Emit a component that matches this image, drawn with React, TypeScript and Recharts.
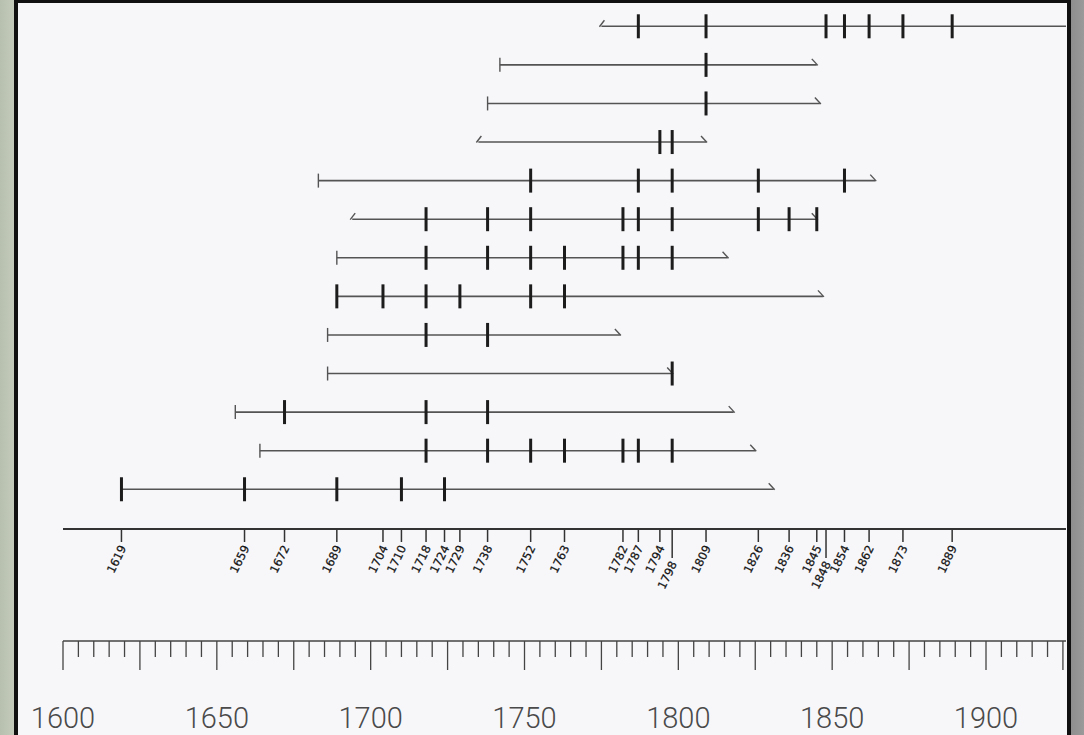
import React from 'react';
import { ComposedChart, XAxis, YAxis, ReferenceLine, Scatter } from 'recharts';

// Fire-scar years marked on the upper (event) axis
const eventYears = [1619, 1659, 1672, 1689, 1704, 1710, 1718, 1724, 1729, 1738, 1752, 1763, 1782, 1787, 1794, 1798, 1809, 1826, 1836, 1845, 1848, 1854, 1862, 1873, 1889];
const staggeredYears = [1798, 1848];

// Lower ruler: ticks every 5 years, labels every 50
const rulerTicks = [1600, 1605, 1610, 1615, 1620, 1625, 1630, 1635, 1640, 1645, 1650, 1655, 1660, 1665, 1670, 1675, 1680, 1685, 1690, 1695, 1700, 1705, 1710, 1715, 1720, 1725, 1730, 1735, 1740, 1745, 1750, 1755, 1760, 1765, 1770, 1775, 1780, 1785, 1790, 1795, 1800, 1805, 1810, 1815, 1820, 1825, 1830, 1835, 1840, 1845, 1850, 1855, 1860, 1865, 1870, 1875, 1880, 1885, 1890, 1895, 1900, 1905, 1910, 1915, 1920, 1925];
const rulerMajor = [1600, 1625, 1650, 1675, 1700, 1725, 1750, 1775, 1800, 1825, 1850, 1875, 1900, 1925];
const rulerLabels = [1600, 1650, 1700, 1750, 1800, 1850, 1900];

// Samples (top to bottom)
const rowIds = [1, 2, 3, 4, 5, 6, 7, 8, 9, 10, 11, 12, 13];
const rowStarts = [1775, 1742, 1738, 1735, 1683, 1694, 1689, 1689, 1686, 1686, 1656, 1664, 1619];
const rowEnds = [1926, 1845, 1846, 1809, 1864, 1845, 1816, 1847, 1781, 1798, 1818, 1825, 1831];
const startMarks = ['hook', 'bar', 'bar', 'hook', 'bar', 'hook', 'bar', 'none', 'bar', 'bar', 'bar', 'bar', 'none'];
const endMarks = ['none', 'hook', 'hook', 'hook', 'hook', 'hook', 'hook', 'hook', 'hook', 'hook', 'hook', 'hook', 'hook'];
const scarYears = [
  [1787, 1809, 1848, 1854, 1862, 1873, 1889],
  [1809],
  [1809],
  [1794, 1798],
  [1752, 1787, 1798, 1826, 1854],
  [1718, 1738, 1752, 1782, 1787, 1798, 1826, 1836, 1845],
  [1718, 1738, 1752, 1763, 1782, 1787, 1798],
  [1689, 1704, 1718, 1729, 1752, 1763],
  [1718, 1738],
  [1798],
  [1672, 1718, 1738],
  [1718, 1738, 1752, 1763, 1782, 1787, 1798],
  [1619, 1659, 1689, 1710, 1724],
];

const scarData = scarYears.flatMap((ys, i) => ys.map((year) => ({ year, row: rowIds[i] })));
const startData = rowIds.map((row, i) => ({ year: rowStarts[i], row, mark: startMarks[i] }));
const endData = rowIds.map((row, i) => ({ year: rowEnds[i], row, mark: endMarks[i] }));

const LINE = '#545454';
const INK = '#1c1c1c';

const ScarShape = (p: any) => (
  <rect x={p.cx - 1.5} y={p.cy - 12} width={3} height={24} fill={INK} />
);

const StartShape = (p: any) => {
  const m = p.payload?.mark;
  if (m === 'bar') return <line x1={p.cx} x2={p.cx} y1={p.cy - 7} y2={p.cy + 7} stroke={LINE} strokeWidth={1.4} />;
  if (m === 'hook') return <line x1={p.cx - 2} y1={p.cy + 0.5} x2={p.cx + 3} y2={p.cy - 6} stroke={LINE} strokeWidth={1.4} />;
  return <g />;
};

const EndShape = (p: any) => {
  const m = p.payload?.mark;
  if (m === 'hook') return <line x1={p.cx + 1} y1={p.cy + 0.5} x2={p.cx - 5} y2={p.cy - 6} stroke={LINE} strokeWidth={1.4} />;
  return <g />;
};

const EventTick = (props: any) => {
  const { x, y, payload } = props;
  const long = staggeredYears.includes(payload.value);
  const len = long ? 29 : 13;
  return (
    <g>
      <line x1={x} x2={x} y1={y} y2={y + len} stroke="#333" strokeWidth={1.5} />
      <text
        transform={`translate(${x + 1.5},${y + len + 4}) rotate(-64)`}
        textAnchor="end"
        dy="0.35em"
        fontSize={11.5}
        fontFamily="'DejaVu Sans', 'Liberation Sans', Arial, sans-serif"
        fill="#141414"
        stroke="#141414"
        strokeWidth={0.25}
      >
        {payload.value}
      </text>
    </g>
  );
};

const RulerTick = (props: any) => {
  const { x, y, payload } = props;
  const v = payload.value;
  const len = rulerMajor.includes(v) ? 29 : 16;
  return (
    <g>
      <line x1={x} x2={x} y1={y} y2={y + len} stroke="#444" strokeWidth={1.3} />
      {rulerLabels.includes(v) && (
        <text
          x={x}
          y={y + 77}
          textAnchor="middle"
          dominantBaseline="central"
          fontSize={29}
          fontWeight={300}
          fontFamily="Roboto, 'Liberation Sans', Arial, sans-serif"
          fill="#4a4a4a"
        >
          {v}
        </text>
      )}
    </g>
  );
};

export default function App() {
  return (
    <div
      style={{
        position: 'absolute',
        left: 0,
        top: 0,
        width: 1084,
        height: 735,
        overflow: 'hidden',
        background: 'linear-gradient(90deg, #b7bfae 0px, #c4cbbb 14px, #8e8e8e 1071px, #9a9a9a 1084px)',
      }}
    >
      <div
        style={{
          position: 'absolute',
          left: 14,
          top: 0,
          width: 1049,
          height: 735,
          background: '#f7f7fa',
          borderLeft: '4px solid #111',
          borderRight: '4px solid #111',
          borderTop: '3px solid #111',
        }}
      />
      <div style={{ position: 'absolute', left: 0, top: 0 }}>
        <ComposedChart width={1084} height={735} margin={{ top: 7, right: 18, bottom: 0, left: 63 }}>
          <XAxis
            xAxisId="ev"
            dataKey="year"
            type="number"
            domain={[1600, 1926]}
            allowDataOverflow
            ticks={eventYears}
            interval={0}
            height={112}
            tickSize={0}
            tickMargin={0}
            tickLine={false}
            axisLine={{ stroke: '#333', strokeWidth: 2 }}
            tick={<EventTick />}
          />
          <XAxis
            xAxisId="ru"
            dataKey="year"
            type="number"
            domain={[1600, 1926]}
            allowDataOverflow
            ticks={rulerTicks}
            interval={0}
            height={94}
            tickSize={0}
            tickMargin={0}
            tickLine={false}
            axisLine={{ stroke: '#444', strokeWidth: 1.5 }}
            tick={<RulerTick />}
          />
          <YAxis yAxisId="rows" dataKey="row" type="number" domain={[0.5, 14.03]} reversed hide allowDataOverflow />
          {rowIds.map((row, i) => (
            <ReferenceLine
              key={`r${row}`}
              xAxisId="ev"
              yAxisId="rows"
              segment={[{ x: rowStarts[i], y: row }, { x: rowEnds[i], y: row }]}
              stroke={LINE}
              strokeWidth={1.6}
              ifOverflow="visible"
            />
          ))}
          <Scatter xAxisId="ev" yAxisId="rows" data={startData} shape={StartShape} isAnimationActive={false} />
          <Scatter xAxisId="ev" yAxisId="rows" data={endData} shape={EndShape} isAnimationActive={false} />
          <Scatter xAxisId="ev" yAxisId="rows" data={scarData} shape={ScarShape} isAnimationActive={false} />
        </ComposedChart>
      </div>
    </div>
  );
}
